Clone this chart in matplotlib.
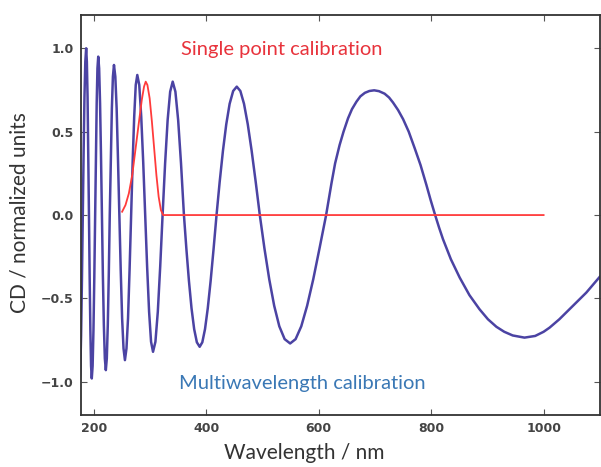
import numpy as np
import matplotlib.pyplot as plt

# multiwavelength calibration curve (blue)
blue_nm = [174, 175.5, 177, 178.5, 180, 181.5, 183, 184.5, 186,
           187.25, 188.5, 189.75, 191, 192.25, 193.5, 194.75, 196,
           197.5, 199, 200.5, 202, 203.4, 204.75, 206.1, 207.5,
           209.1, 210.75, 212.4, 214, 215.75, 217.5, 219.25, 221,
           222.75, 224.5, 226.25, 228, 229.9, 231.75, 233.6, 235.5,
           237.9, 240.25, 242.6, 245, 247.5, 250, 252.5, 255,
           257.75, 260.5, 263.25, 266, 268.75, 271.5, 274.25, 277,
           280.5, 284, 287.5, 291, 294.5, 298, 301.5, 305,
           309.25, 313.5, 317.75, 322, 326.5, 331, 335.5, 340,
           344.8, 349.7, 354.8, 360,
           364.4, 368.9, 373.5, 378.2, 383.0, 388,
           392.7, 397.5, 402.4, 407.5, 412.7, 418,
           423.6, 429.4, 435.3, 441.3, 447.6, 454,
           460.4, 466.9, 473.6, 480.5, 487.7, 495,
           503.2, 511.8, 520.6, 529.7, 539.2, 549,
           558.7, 568.8, 579.2, 590.1, 601.3, 613,
           618, 622.5, 629, 637, 644, 652, 659, 667, 674, 682, 690, 698.5,
           707, 717, 725, 732, 741, 750, 760, 770.7, 781, 791.5, 799, 807,
           814, 821, 835, 850.7, 868, 886, 901, 916, 930, 945, 966,
           985, 1000, 1010.7, 1028, 1046, 1061, 1076, 1090, 1100]
blue_cd = [-1.02, -0.94, -0.72, -0.39, 0.0, 0.38, 0.71, 0.92, 1.00,
           0.92, 0.71, 0.38, 0.0, -0.375, -0.69, -0.905, -0.98,
           -0.905, -0.69, -0.375, 0.0, 0.36, 0.67, 0.88, 0.95,
           0.88, 0.67, 0.36, 0.0, -0.36, -0.66, -0.86, -0.93,
           -0.86, -0.66, -0.36, 0.0, 0.34, 0.64, 0.83, 0.90,
           0.83, 0.64, 0.34, 0.0, -0.33, -0.62, -0.80, -0.87,
           -0.80, -0.62, -0.33, 0.0, 0.32, 0.59, 0.78, 0.84,
           0.78, 0.59, 0.32, 0.0, -0.31, -0.58, -0.76, -0.82,
           -0.76, -0.58, -0.31, 0.0, 0.31, 0.57, 0.74, 0.80,
           0.74, 0.57, 0.31, 0.0,
           -0.205, -0.395, -0.559, -0.684, -0.763, -0.79,
           -0.763, -0.684, -0.559, -0.395, -0.205, 0.0,
           0.199, 0.385, 0.544, 0.667, 0.744, 0.77,
           0.744, 0.667, 0.544, 0.385, 0.199, 0.0,
           -0.199, -0.385, -0.544, -0.667, -0.744, -0.77,
           -0.744, -0.667, -0.544, -0.385, -0.199, 0.0,
           0.10, 0.19, 0.31, 0.42, 0.50, 0.58, 0.635, 0.68, 0.712, 0.733, 0.744, 0.748,
           0.743, 0.728, 0.705, 0.675, 0.63, 0.575, 0.50, 0.40, 0.30, 0.18, 0.09, 0.0,
           -0.075, -0.145, -0.265, -0.375, -0.48, -0.565, -0.625, -0.67, -0.70, -0.722, -0.735,
           -0.725, -0.70, -0.675, -0.625, -0.565, -0.515, -0.465, -0.41, -0.37]

# single point calibration (red)
red_nm = [250, 256, 262, 268, 274, 280, 285, 289, 292, 295, 299,
          303, 307, 311, 315, 319, 323, 1000]
red_cd = [0.02, 0.06, 0.13, 0.24, 0.40, 0.56, 0.69, 0.77, 0.80, 0.78, 0.70,
          0.56, 0.40, 0.24, 0.11, 0.03, 0.0, 0.0]

x_ticks = [200, 400, 600, 800, 1000]
y_ticks = [-1.0, -0.5, 0.0, 0.5, 1.0]

fig = plt.figure(figsize=(6.01, 4.67), dpi=100)
ax = fig.add_axes([0.134, 0.111, 0.864, 0.857])

ax.plot(blue_nm, blue_cd, color="#4b43a3", lw=1.8)
ax.plot(red_nm, red_cd, color="#ff3b3b", lw=1.3)

ax.set_xlim(176, 1100)
ax.set_ylim(-1.2, 1.2)
ax.set_xticks(x_ticks)
ax.set_yticks(y_ticks)
ax.set_xticklabels([str(t) for t in x_ticks])
ax.set_yticklabels(["\u22121.0", "\u22120.5", "0.0", "0.5", "1.0"])
ax.tick_params(direction="in", top=True, right=True, length=4,
               labelsize=9, labelcolor="#444444", color="#555555", pad=5)
for t in ax.get_xticklabels() + ax.get_yticklabels():
    t.set_fontweight("bold")
for s in ax.spines.values():
    s.set_color("#333333")
    s.set_linewidth(1.3)

ax.text(534, 0.99, "Single point calibration", color="#e8333c",
        fontsize=14.5, family="Lato", ha="center", va="center")
ax.text(570, -1.01, "Multiwavelength calibration", color="#3a78b5",
        fontsize=14.5, family="Lato", ha="center", va="center")

fig.text(0.507, 0.030, "Wavelength / nm", fontsize=15, family="Lato",
         color="#333333", ha="center", va="center")
fig.text(0.033, 0.544, "CD / normalized units", fontsize=15, family="Lato",
         color="#333333", ha="center", va="center", rotation=90)

fig.savefig("out.png", dpi=100)
